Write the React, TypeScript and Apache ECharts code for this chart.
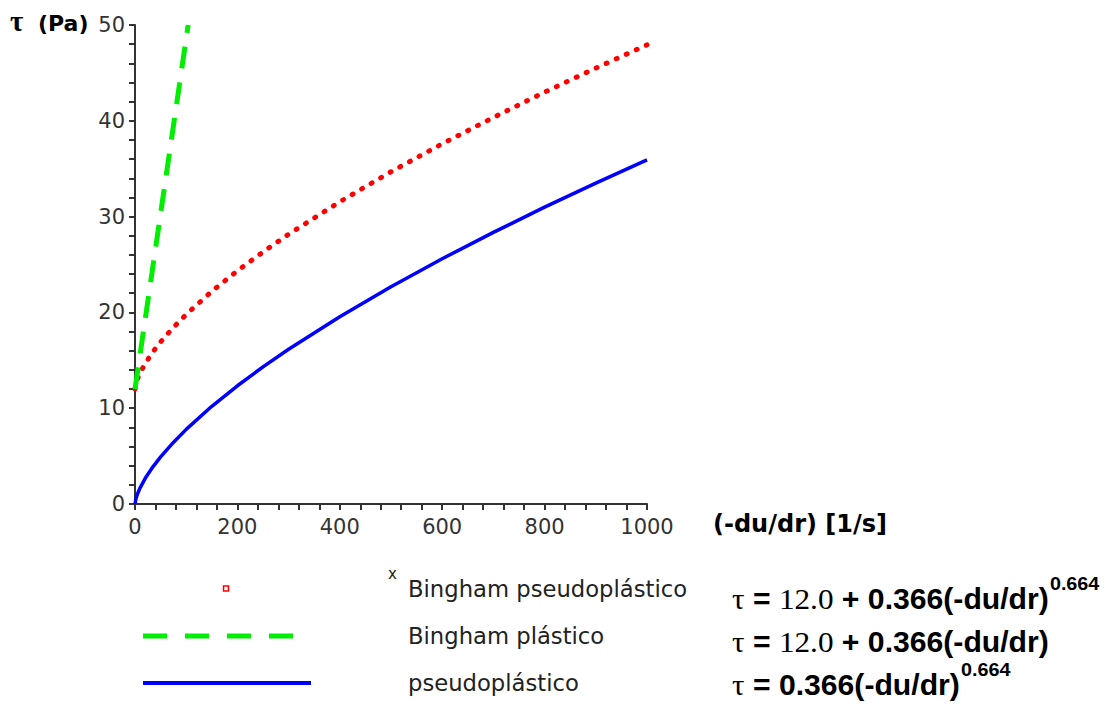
import React, { useEffect, useRef } from "react";
import * as echarts from "echarts";

// shear rate (1/s)
const shearRate = [0, 2, 5, 10, 20, 35, 50, 75, 100, 150, 200, 250, 300, 400, 500, 600, 700, 800, 900, 1000];
// pseudoplástico  τ (Pa)
const pseudo = [0, 0.58, 1.07, 1.69, 2.68, 3.88, 4.92, 6.43, 7.79, 10.2, 12.34, 14.31, 16.16, 19.55, 22.68, 25.6, 28.35, 30.99, 33.5, 35.93];
// Bingham pseudoplástico τ (Pa)
const binghamPseudo = [12, 12.58, 13.07, 13.69, 14.68, 15.88, 16.92, 18.43, 19.79, 22.2, 24.34, 26.31, 28.16, 31.55, 34.68, 37.6, 40.35, 42.99, 45.5, 47.93];
// Bingham plástico
const plasticRate = [0, 50, 103.8];
const plasticTau = [12, 30.3, 50];

const xTicks = [0, 200, 400, 600, 800, 1000];
const yTicks = [0, 10, 20, 30, 40, 50];

const legendNames = ["Bingham pseudoplástico", "Bingham plástico", "pseudoplástico"];

export default function App() {
  const ref = useRef<HTMLDivElement>(null);
  useEffect(() => {
    if (!ref.current) return;
    const chart = echarts.init(ref.current, null, { renderer: "svg" });
    const pairs = (xs: number[], ys: number[]) => xs.map((x, i) => [x, ys[i]]);
    const tickFont = { fontFamily: "DejaVu Sans", fontSize: 21, color: "#333", formatter: (v: number) => String(v) };
    const bold = "Liberation Sans";
    const eqRich = {
      t: { fontFamily: "Liberation Serif", fontSize: 30, fill: "#000", color: "#000" },
      b: { fontFamily: bold, fontWeight: "bold", fontSize: 29, fill: "#000", color: "#000" },
      s: { fontFamily: "Liberation Serif", fontSize: 30, fill: "#000", color: "#000" },
      p: { fontFamily: bold, fontWeight: "bold", fontSize: 19, fill: "#000", color: "#000", padding: [0, 0, 32, 1] },
    };
    const eqText = (text: string, y: number) => ({
      type: "text",
      x: 732,
      y,
      scaleX: 1.04,
      style: { text, rich: eqRich, textAlign: "left", textVerticalAlign: "middle", fill: "#000" },
    });
    chart.setOption({
      animation: false,
      grid: { left: 135, right: 471, top: 25, bottom: 203, containLabel: false },
      xAxis: {
        type: "value",
        min: xTicks[0],
        max: xTicks[xTicks.length - 1],
        interval: 200,
        axisLine: { show: true, lineStyle: { color: "#333", width: 2 } },
        axisTick: { show: true, length: 6, lineStyle: { color: "#333", width: 2 } },
        minorTick: { show: true, splitNumber: 5, length: 6, lineStyle: { color: "#333", width: 2 } },
        splitLine: { show: false },
        axisLabel: { ...tickFont, margin: 12 },
      },
      yAxis: {
        type: "value",
        min: yTicks[0],
        max: yTicks[yTicks.length - 1],
        interval: 10,
        axisLine: { show: true, lineStyle: { color: "#333", width: 2 } },
        axisTick: { show: true, length: 6, lineStyle: { color: "#333", width: 2 } },
        minorTick: { show: true, splitNumber: 5, length: 6, lineStyle: { color: "#333", width: 2 } },
        splitLine: { show: false },
        axisLabel: { ...tickFont, margin: 10 },
      },
      series: [
        {
          name: legendNames[0],
          type: "line",
          data: pairs(shearRate, binghamPseudo),
          showSymbol: false,
          clip: false,
          lineStyle: { color: "#ff0000", width: 5, type: [1, 10], cap: "round" },
        },
        {
          name: legendNames[1],
          type: "line",
          data: pairs(plasticRate, plasticTau),
          showSymbol: false,
          lineStyle: { color: "#00ee00", width: 5, type: [22, 14] },
        },
        {
          name: legendNames[2],
          type: "line",
          data: pairs(shearRate, pseudo),
          showSymbol: false,
          lineStyle: { color: "#0000ff", width: 3.5, join: "round" },
        },
      ],
      graphic: [
        {
          type: "text",
          x: 10,
          y: 21,
          style: { text: "τ", font: "bold 29px 'Liberation Serif'", fill: "#000", textAlign: "left", textVerticalAlign: "middle" },
        },
        {
          type: "text",
          x: 38,
          y: 23,
          style: { text: "(Pa)", font: "bold 22px 'DejaVu Sans'", fill: "#000", textAlign: "left", textVerticalAlign: "middle" },
        },
        {
          type: "text",
          x: 713,
          y: 524,
          style: { text: "(-du/dr) [1/s]", font: "bold 24px 'DejaVu Sans'", fill: "#000", textAlign: "left", textVerticalAlign: "middle" },
        },
        // legend
        {
          type: "rect",
          shape: { x: 223.5, y: 586, width: 5, height: 5 },
          style: { fill: "#fff", stroke: "#ff0000", lineWidth: 1.5 },
        },
        {
          type: "line",
          shape: { x1: 143, y1: 636, x2: 295, y2: 636 },
          style: { stroke: "#00ee00", lineWidth: 5, lineDash: [24, 18] },
        },
        {
          type: "line",
          shape: { x1: 143, y1: 683, x2: 311, y2: 683 },
          style: { stroke: "#0000ff", lineWidth: 4 },
        },
        {
          type: "text",
          x: 388,
          y: 574,
          style: { text: "x", font: "15px 'DejaVu Sans'", fill: "#222", textAlign: "left", textVerticalAlign: "middle" },
        },
        ...legendNames.map((name, i) => ({
          type: "text",
          x: 408,
          y: 589 + i * 47,
          style: { text: name, font: "22.7px 'DejaVu Sans'", fill: "#222", textAlign: "left", textVerticalAlign: "middle" },
        })),
        eqText("{t|τ}{b| = }{s|12.0}{b| + 0.366(-du/dr)}{p|0.664}", 599),
        eqText("{t|τ}{b| = }{s|12.0}{b| + 0.366(-du/dr)}", 642),
        eqText("{t|τ}{b| = 0.366(-du/dr)}{p|0.664}", 685),
      ],
    });
    return () => chart.dispose();
  }, []);
  return (
    <div
      ref={ref}
      style={{ position: "absolute", left: 0, top: 0, width: 1118, height: 707, background: "#fff" }}
    />
  );
}
